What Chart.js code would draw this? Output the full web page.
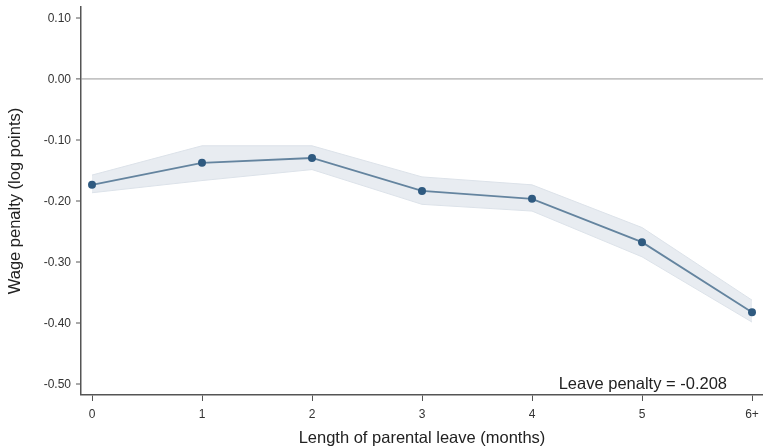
<!DOCTYPE html>
<html>
<head>
<meta charset="utf-8">
<title>Wage penalty by length of parental leave</title>
<script src="https://cdn.jsdelivr.net/npm/chart.js@4/dist/chart.umd.min.js"></script>
<style>
  html, body { margin: 0; padding: 0; background: #ffffff; }
  #wrap { width: 763px; height: 448px; }
</style>
</head>
<body>
<div id="wrap"><canvas id="chart" width="763" height="448"></canvas></div>
<script>
// Months of parental leave (6 = six months or more)
const months = [0, 1, 2, 3, 4, 5, 6];
const monthLabels = ['0', '1', '2', '3', '4', '5', '6+'];

// Estimated wage penalty (log points) and its confidence band
const estimate = [-0.173, -0.137, -0.129, -0.183, -0.196, -0.267, -0.382];
const ciUpper  = [-0.157, -0.109, -0.109, -0.160, -0.173, -0.243, -0.362];
const ciLower  = [-0.186, -0.166, -0.148, -0.205, -0.216, -0.291, -0.398];

// Value ticks on the vertical axis
const yTicks = [0.10, 0.00, -0.10, -0.20, -0.30, -0.40, -0.50];

const leavePenalty = -0.208;

const toPoints = vals => months.map((m, i) => ({ x: m, y: vals[i] }));

const FONT = "'Liberation Sans', Arial, sans-serif";
const INK = '#333333';

// Keep the plot area flush with the canvas edges (no label overhang padding)
const noOverhang = s => {
  s.paddingTop = 0; s.paddingBottom = 0; s.paddingLeft = 0; s.paddingRight = 0;
};

// Summary label in the lower right of the plot area
const penaltyLabel = {
  id: 'penaltyLabel',
  afterDatasetsDraw(chart) {
    const { ctx, chartArea } = chart;
    ctx.save();
    ctx.font = '16.5px ' + FONT;
    ctx.fillStyle = '#222222';
    ctx.textAlign = 'right';
    ctx.textBaseline = 'alphabetic';
    ctx.fillText('Leave penalty = ' + leavePenalty.toFixed(3), chartArea.right - 36, chartArea.bottom - 6);
    ctx.restore();
  }
};

const isZero = ctx => ctx.tick && Math.abs(ctx.tick.value) < 1e-9;

new Chart(document.getElementById('chart'), {
  type: 'line',
  data: {
    datasets: [
      {
        label: 'Upper bound',
        data: toPoints(ciUpper),
        borderColor: '#dce2e9',
        borderWidth: 1,
        backgroundColor: '#e8ecf1',
        pointRadius: 0,
        fill: '+1',
        order: 3
      },
      {
        label: 'Lower bound',
        data: toPoints(ciLower),
        borderColor: '#dce2e9',
        borderWidth: 1,
        pointRadius: 0,
        fill: false,
        order: 2
      },
      {
        label: 'Wage penalty',
        data: toPoints(estimate),
        borderColor: '#64849f',
        borderWidth: 1.8,
        pointRadius: 4,
        pointBackgroundColor: '#2f5a80',
        pointBorderColor: '#2f5a80',
        pointBorderWidth: 0,
        fill: false,
        order: 1
      }
    ]
  },
  options: {
    responsive: false,
    animation: false,
    layout: { autoPadding: false, padding: { top: 7, right: 0, left: 0, bottom: 0 } },
    plugins: {
      legend: { display: false },
      tooltip: { enabled: false }
    },
    scales: {
      x: {
        type: 'linear',
        min: -0.1,
        max: 6.1,
        afterBuildTicks: s => { s.ticks = months.map(v => ({ value: v })); },
        afterFit: s => { s.height = 53; noOverhang(s); },
        ticks: {
          autoSkip: false,
          maxRotation: 0,
          padding: 6,
          color: INK,
          font: { family: FONT, size: 12 },
          callback: (v) => monthLabels[months.indexOf(v)]
        },
        grid: {
          drawOnChartArea: false,
          drawTicks: true,
          tickLength: 6,
          tickColor: '#555555',
          tickWidth: 1
        },
        border: { display: true, color: '#555555', width: 1.5 },
        title: {
          display: true,
          text: 'Length of parental leave (months)',
          color: '#222222',
          font: { family: FONT, size: 16.5, lineHeight: 1.2 },
          padding: { top: 0, bottom: 0 }
        }
      },
      y: {
        type: 'linear',
        min: -0.5175,
        max: 0.1185,
        afterBuildTicks: s => { s.ticks = yTicks.map(v => ({ value: v })); },
        afterFit: s => { s.width = 81; noOverhang(s); },
        ticks: {
          autoSkip: false,
          padding: 5,
          color: INK,
          font: { family: FONT, size: 12 },
          callback: v => v.toFixed(2)
        },
        grid: {
          drawOnChartArea: true,
          drawTicks: true,
          tickLength: 5,
          tickColor: '#555555',
          tickWidth: 1,
          color: ctx => isZero(ctx) ? '#c4c4c4' : 'rgba(0,0,0,0)',
          lineWidth: ctx => isZero(ctx) ? 1.8 : 0
        },
        border: { display: true, color: '#555555', width: 1.5 },
        title: {
          display: true,
          text: 'Wage penalty (log points)',
          color: '#222222',
          font: { family: FONT, size: 16.5, lineHeight: 1.2 },
          padding: { top: 6, bottom: 0 }
        }
      }
    }
  },
  plugins: [penaltyLabel]
});
</script>
</body>
</html>
